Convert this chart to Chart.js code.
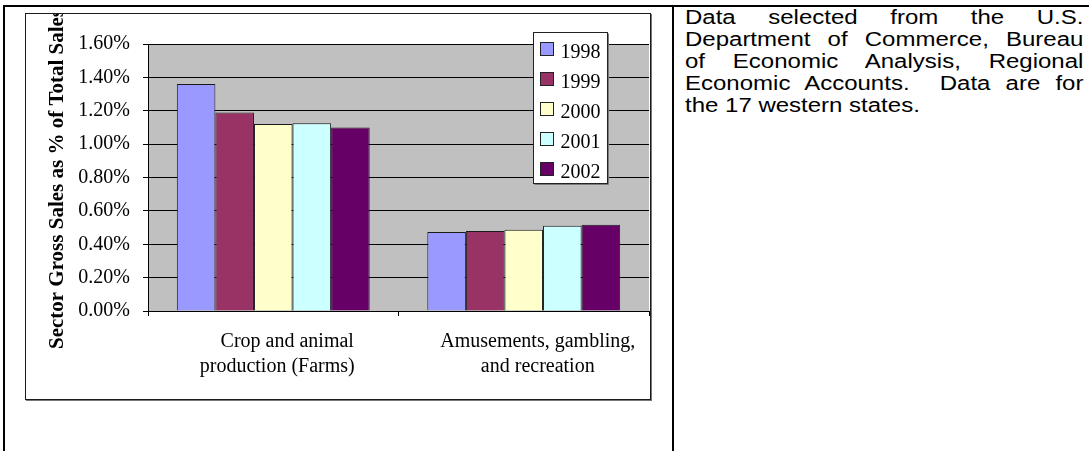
<!DOCTYPE html>
<html>
<head>
<meta charset="utf-8">
<script src="https://cdn.jsdelivr.net/npm/chart.js@4.4.0/dist/chart.umd.min.js"></script>
<style>
html,body{margin:0;padding:0;background:#fff;}
body{width:1089px;height:451px;position:relative;overflow:hidden;}
.rule{position:absolute;background:#000;}
#frame{position:absolute;left:25px;top:13px;width:624px;height:385px;border:1px solid #1a1a1a;box-shadow:1px 1px 0 #777;background:#fff;}
#salesChart{display:block;}
#note{position:absolute;left:685px;top:6px;width:332px;transform:scaleX(1.2);transform-origin:0 0;
      font-family:Arial,"Liberation Sans",sans-serif;font-size:20px;line-height:22px;color:#000;}
#note .ln{text-align:justify;text-align-last:justify;white-space:nowrap;}
#note .ln.last{text-align:left;text-align-last:left;}
</style>
</head>
<body>

<div class="rule" style="left:3px;top:5px;width:1086px;height:2px;"></div>
<div class="rule" style="left:3px;top:5px;width:2px;height:446px;"></div>
<div class="rule" style="left:672px;top:5px;width:2px;height:446px;"></div>

<div id="frame">
  <canvas id="salesChart" width="624" height="385"></canvas>
</div>

<div id="note">
  <div class="ln">Data selected from the U.S.</div>
  <div class="ln">Department of Commerce, Bureau</div>
  <div class="ln">of Economic Analysis, Regional</div>
  <div class="ln">Economic Accounts.&nbsp; Data are for</div>
  <div class="ln last">the 17 western states.</div>
</div>

<script>
/* ===================================================== */
/* DATA */
/* ===================================================== */

// second line of the farm label is padded so it sits left like the source layout
const sectors = [
  ['Crop and animal', 'production (Farms)    '],
  ['Amusements, gambling,', 'and recreation']
];

const years = ['1998', '1999', '2000', '2001', '2002'];

// % of total sales, [farms, amusements]
const sales1998 = [1.36, 0.473];
const sales1999 = [1.19, 0.479];
const sales2000 = [1.12, 0.487];
const sales2001 = [1.125, 0.511];
const sales2002 = [1.10, 0.517];

const yearColors = ['#9999FF', '#993366', '#FFFFCC', '#CCFFFF', '#660066'];

const yTickLabels = ['0.00%', '0.20%', '0.40%', '0.60%', '0.80%',
                     '1.00%', '1.20%', '1.40%', '1.60%'];

const yTitle = 'Sector Gross Sales as % of Total Sales';

const SERIF = '"Times New Roman", "Liberation Serif", serif';

/* ===================================================== */
/* PLUGINS */
/* ===================================================== */

// gray plot background
const plotBackground = {
  id: 'plotBackground',
  beforeDraw(chart){
    const {ctx, chartArea} = chart;
    ctx.save();
    ctx.fillStyle = '#C0C0C0';
    ctx.fillRect(chartArea.left, chartArea.top,
                 chartArea.right - chartArea.left,
                 chartArea.bottom - chartArea.top);
    ctx.restore();
  }
};

// rotated axis title, drawn without squeezing it to the plot height
const axisTitle = {
  id: 'axisTitle',
  afterDraw(chart){
    const {ctx, chartArea} = chart;
    const yScale = chart.scales.y;
    ctx.save();
    ctx.translate(yScale.left + 32, (chartArea.top + chartArea.bottom) / 2 + 1.5);
    ctx.rotate(-Math.PI / 2);
    ctx.font = 'bold 21px ' + SERIF;
    ctx.fillStyle = '#000';
    ctx.textAlign = 'center';
    ctx.textBaseline = 'middle';
    ctx.fillText(yTitle, 0, 0);
    ctx.restore();
  }
};

// boxed legend sitting over the top right of the plot
const boxedLegend = {
  id: 'boxedLegend',
  afterDraw(chart){
    const {ctx, chartArea} = chart;
    const left = chartArea.right - 115.5;
    const top = chartArea.top - 11.5;
    const w = 74, h = 151;

    ctx.save();
    ctx.fillStyle = '#fff';
    ctx.fillRect(left, top, w, h);
    ctx.strokeStyle = '#7a7a7a';
    ctx.lineWidth = 1;
    ctx.beginPath();
    ctx.moveTo(left + w + 1, top + 1);
    ctx.lineTo(left + w + 1, top + h + 1);
    ctx.lineTo(left + 1, top + h + 1);
    ctx.stroke();
    ctx.strokeStyle = '#222';
    ctx.strokeRect(left, top, w, h);

    ctx.font = '20px ' + SERIF;
    ctx.textBaseline = 'alphabetic';
    ctx.textAlign = 'left';

    chart.data.datasets.forEach((ds, i) => {
      const sy = top + 10 + i * 30;
      ctx.fillStyle = ds.backgroundColor;
      ctx.fillRect(left + 7, sy, 13, 13);
      ctx.strokeStyle = '#222';
      ctx.strokeRect(left + 7, sy, 13, 13);
      ctx.fillStyle = '#000';
      ctx.fillText(ds.label, left + 27, sy + 15);
    });
    ctx.restore();
  }
};

/* ===================================================== */
/* CHART */
/* ===================================================== */

const seriesValues = [sales1998, sales1999, sales2000, sales2001, sales2002];

const salesChart = new Chart(
document.getElementById('salesChart'),
{
  type: 'bar',
  data: {
    labels: sectors,
    datasets: years.map((yr, i) => ({
      label: yr,
      data: seriesValues[i],
      backgroundColor: yearColors[i],
      borderColor: '#1a1a1a',
      borderWidth: 1,
      categoryPercentage: 0.77,
      barPercentage: 1.0
    }))
  },
  options: {
    responsive: false,
    animation: false,
    devicePixelRatio: 1,
    layout: {
      padding: {left: 0, top: 30, right: 1, bottom: 0}
    },
    plugins: {
      legend: {display: false},
      tooltip: {enabled: false}
    },
    scales: {
      x: {
        offset: true,
        grid: {
          drawOnChartArea: false,
          drawTicks: true,
          tickLength: 5,
          color: '#000',
          offset: true
        },
        border: {color: '#000', width: 1},
        ticks: {
          color: '#000',
          font: {family: SERIF, size: 20, lineHeight: 1.25},
          padding: 13,
          labelOffset: 14,
          maxRotation: 0,
          autoSkip: false
        },
        afterFit(scale){
          scale.height = 88;
        }
      },
      y: {
        min: 0,
        max: 1.6,
        grid: {
          color: '#000',
          lineWidth: 1,
          drawTicks: true,
          tickLength: 5
        },
        border: {color: '#000', width: 1},
        ticks: {
          stepSize: 0.2,
          color: '#000',
          padding: 13,
          font: {family: SERIF, size: 20},
          callback: (value, index) => yTickLabels[index]
        },
        afterFit(scale){
          scale.width = 122;
        }
      }
    }
  },
  plugins: [plotBackground, axisTitle, boxedLegend]
});
</script>
</body>
</html>
